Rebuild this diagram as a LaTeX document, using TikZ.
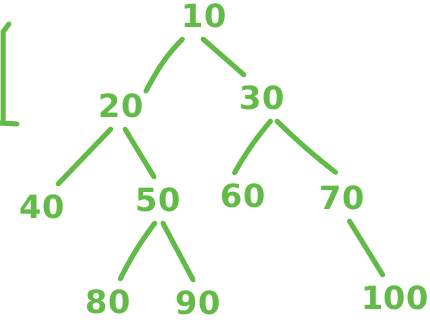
\documentclass[tikz,border=0pt]{standalone}
\usepackage{fontspec}
\setmainfont{DejaVu Sans}
\usepackage{tikz}
\definecolor{penGreen}{RGB}{98, 187, 70}

\begin{document}
\begin{tikzpicture}[x=1pt, y=-1pt, font=\fontsize{32}{32}\selectfont\bfseries,
        key/.style={text=penGreen, rectangle, inner sep=0pt, minimum width=58pt, minimum height=46pt},
        stroke/.style={draw=penGreen, line width=5pt, line cap=round, line join=round}]
        \useasboundingbox (0,0) rectangle (430,328);
        % keys of the tree
        \node[key] (n10) at (204,16) {10};
        \node[key] (n20) at (121,106) {20};
        \node[key] (n30) at (262,98) {30};
        \node[key] (n40) at (42,207) {40};
        \node[key] (n50) at (158,200) {50};
        \node[key] (n60) at (243,196) {60};
        \node[key] (n70) at (342,198) {70};
        \node[key] (n80) at (108,302) {80};
        \node[key] (n90) at (198,303) {90};
        \node[key] (n100) at (395,298) {100};
        % links
        \draw[stroke, shorten >=-9pt] (n10.227) to[bend right=8] (n20.38);
        \draw[stroke] (n10.268) -- (n30.128);
        \draw[stroke] (n20.246) -- (n40.55);
        \draw[stroke] (n20.280) -- (n50.100);
        \draw[stroke] (n30.290) to[bend right=5] (n60.110);
        \draw[stroke, shorten >=4pt] (n30.303) to[bend right=3] (n70.98);
        \draw[stroke] (n50.262) to[bend right=5] (n80.62);
        \draw[stroke] (n50.282) -- (n90.102);
        \draw[stroke] (n70.288) -- (n100.118);
        % left edge mark
        \draw[stroke] (9,24) -- (3,32) -- (3,123);
        \draw[stroke] (0,123) -- (17,124);
\end{tikzpicture}
\end{document}
